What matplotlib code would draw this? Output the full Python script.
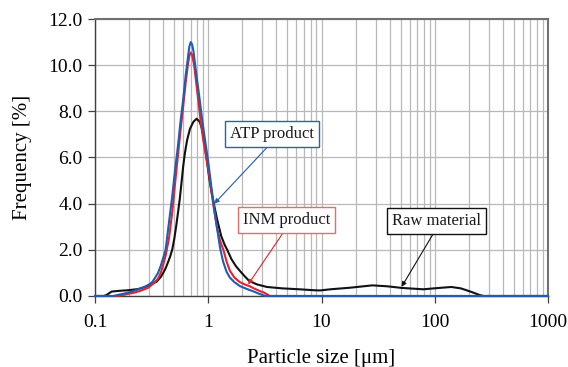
import numpy as np
import matplotlib
matplotlib.use("Agg")
import matplotlib.pyplot as plt
from matplotlib.ticker import FixedLocator, FixedFormatter, NullFormatter

plt.rcParams['font.family'] = ['Liberation Serif', 'DejaVu Serif']

# ---- data ----
raw_x = [0.10, 0.12, 0.127, 0.14, 0.16, 0.197, 0.24, 0.276, 0.31, 0.35, 0.38, 0.40,
         0.42, 0.44, 0.46, 0.48, 0.50, 0.52, 0.54, 0.56, 0.58, 0.60, 0.62, 0.65,
         0.69, 0.74, 0.79, 0.84, 0.89, 0.93, 0.97, 1.02, 1.07, 1.13, 1.2, 1.3,
         1.4, 1.47, 1.6, 1.75, 1.9, 2.1, 2.3, 2.7, 3.3, 4.5, 6.4, 8.5, 9.7, 12,
         18, 28, 38, 51, 79, 110, 140, 170, 204, 250, 270, 1000]
raw_y = [0.0, 0.0, 0.05, 0.19, 0.22, 0.25, 0.30, 0.39, 0.50, 0.62, 0.82, 1.0,
         1.2, 1.45, 1.7, 2.0, 2.45, 3.0, 3.6, 4.2, 4.9, 5.6, 6.15, 6.75,
         7.25, 7.55, 7.68, 7.55, 7.17, 6.6, 5.9, 5.1, 4.5, 3.9, 3.3, 2.6,
         2.2, 2.0, 1.6, 1.3, 1.09, 0.85, 0.65, 0.50, 0.39, 0.33, 0.29, 0.25, 0.24, 0.29,
         0.36, 0.46, 0.42, 0.35, 0.29, 0.35, 0.39, 0.33, 0.20, 0.04, 0.0, 0.0]

inm_x = [0.10, 0.16, 0.18, 0.20, 0.225, 0.25, 0.276, 0.296, 0.32, 0.34, 0.36, 0.38,
         0.40, 0.42, 0.45, 0.48, 0.51, 0.54, 0.57, 0.60, 0.63, 0.66, 0.68, 0.70,
         0.72, 0.75, 0.78, 0.82, 0.86, 0.90, 0.95, 1.0, 1.06, 1.12, 1.19, 1.27,
         1.36, 1.45, 1.55, 1.7, 1.9, 2.1, 2.3, 2.6, 2.9, 3.1, 3.5, 1000]
inm_y = [0.0, 0.0, 0.05, 0.10, 0.15, 0.22, 0.30, 0.36, 0.50, 0.62, 0.75, 1.0,
         1.35, 1.75, 2.5, 3.6, 4.9, 6.1, 7.2, 8.2, 9.2, 10.0, 10.4, 10.55,
         10.45, 10.0, 9.3, 8.4, 7.5, 6.8, 6.1, 5.5, 4.6, 3.8, 3.0, 2.4,
         2.0, 1.5, 1.1, 0.8, 0.6, 0.5, 0.43, 0.30, 0.20, 0.15, 0.0, 0.0]

atp_x = [0.10, 0.145, 0.16, 0.18, 0.20, 0.22, 0.25, 0.28, 0.30, 0.32, 0.34, 0.36,
         0.38, 0.40, 0.42, 0.45, 0.48, 0.51, 0.54, 0.57, 0.60, 0.63, 0.66, 0.68,
         0.70, 0.72, 0.74, 0.78, 0.83, 0.88, 0.94, 1.0, 1.06, 1.12, 1.19, 1.27,
         1.35, 1.45, 1.55, 1.7, 1.9, 2.2, 2.5, 2.8, 3.2, 1000]
atp_y = [0.0, 0.0, 0.05, 0.10, 0.16, 0.22, 0.32, 0.42, 0.50, 0.60, 0.80, 1.0,
         1.3, 1.65, 2.0, 3.2, 4.3, 5.5, 6.5, 7.6, 8.5, 9.5, 10.3, 10.8,
         11.0, 10.9, 10.6, 9.7, 8.7, 7.7, 6.7, 5.8, 4.8, 3.9, 3.0, 2.1,
         1.5, 1.05, 0.8, 0.6, 0.43, 0.30, 0.20, 0.10, 0.0, 0.0]

x_ticks = [0.1, 1, 10, 100, 1000]
x_tick_labels = ['0.1', '1', '10', '100', '1000']
y_ticks = [0, 2, 4, 6, 8, 10, 12]
y_tick_labels = ['0.0', '2.0', '4.0', '6.0', '8.0', '10.0', '12.0']

labels = ['Raw material', 'INM product', 'ATP product']
colors = ['#111111', '#e8212b', '#1f5cb3']

# ---- figure ----
fig = plt.figure(figsize=(5.68, 3.67), dpi=100)
ax = fig.add_axes([0.1673, 0.1935, 0.7975, 0.7547])

ax.set_xscale('log')
ax.set_xlim(0.1, 1000)
ax.set_ylim(0, 12)

# grid
minor = [m * 10.0 ** e for e in range(-1, 3) for m in range(2, 10)]
ax.xaxis.set_major_locator(FixedLocator(x_ticks))
ax.xaxis.set_major_formatter(FixedFormatter(x_tick_labels))
ax.xaxis.set_minor_locator(FixedLocator(minor))
ax.xaxis.set_minor_formatter(NullFormatter())
ax.yaxis.set_major_locator(FixedLocator(y_ticks))
ax.yaxis.set_major_formatter(FixedFormatter(y_tick_labels))
ax.grid(True, which='both', axis='x', color='#b8b8b8', lw=0.9)
ax.grid(True, which='major', axis='y', color='#b8b8b8', lw=0.9)
ax.set_axisbelow(True)

ax.tick_params(axis='x', which='major', length=5, width=0.9, direction='out',
               pad=8, labelsize=14, color='#404040')
ax.tick_params(axis='x', which='minor', length=0)
ax.tick_params(axis='y', which='major', length=5, width=0.9, direction='out',
               pad=4, labelsize=14, color='#404040')
for s in ['left', 'bottom']:
    ax.spines[s].set_color('#404040')
    ax.spines[s].set_linewidth(1.0)
for s in ['top', 'right']:
    ax.spines[s].set_color('#707070')
    ax.spines[s].set_linewidth(1.5)

for xs, ys, c in zip([raw_x, inm_x, atp_x], [raw_y, inm_y, atp_y], colors):
    ax.plot(xs, ys, color=c, lw=1.5, solid_joinstyle='round', clip_on=False, zorder=3)

ax.set_xlabel('Particle size [μm]', fontsize=15, labelpad=13)
ax.set_ylabel('Frequency [%]', fontsize=15, labelpad=12)

# annotations
ann = [
    ('ATP product', (1.13, 4.0), (0.391, 0.585), '#1f5cb3', '#2a62b0'),
    ('INM product', (2.25, 0.5), (0.423, 0.276), '#e8212b', '#e86a6a'),
    ('Raw material', (51, 0.4), (0.753, 0.271), '#111111', '#111111'),
]
for txt, xy, xyt, ac, ec in ann:
    ax.annotate(txt, xy=xy, xycoords='data', xytext=xyt, textcoords='axes fraction',
                ha='center', va='center', fontsize=12, color='#1a1a1a', zorder=5,
                bbox=dict(boxstyle='square,pad=0.3', fc='white', ec=ec, lw=1.0),
                arrowprops=dict(arrowstyle='-|>', color=ac, lw=0.8, mutation_scale=7,
                                shrinkA=0, shrinkB=0, relpos=(0.5, 0.0)))

fig.savefig('out.png', dpi=100)
